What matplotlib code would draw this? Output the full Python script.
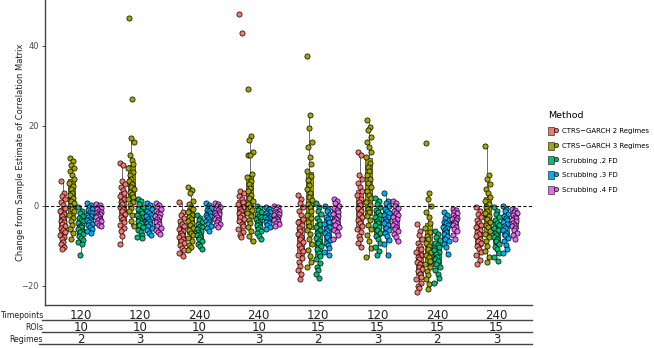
import numpy as np
import matplotlib.pyplot as plt
from matplotlib.patches import Patch
from matplotlib.lines import Line2D
from matplotlib.legend_handler import HandlerTuple
from matplotlib.transforms import blended_transform_factory

# Condition table under the x axis
timepoints = ['120', '120', '240', '240', '120', '120', '240', '240']
rois = ['10', '10', '10', '10', '15', '15', '15', '15']
regimes = ['2', '3', '2', '3', '2', '3', '2', '3']

methods = ['CTRS\u2212GARCH 2 Regimes', 'CTRS\u2212GARCH 3 Regimes',
           'Scrubbing .2 FD', 'Scrubbing .3 FD', 'Scrubbing .4 FD']
colors = ['#F8766D', '#A3A500', '#00BF7D', '#00B0F6', '#E76BF3']

# Values, one list per condition
ctrs2 = [
    [6.1, 3.3, 2.5, 1.8, 1.0, 0.2, -0.6, -1.3, -2.0, -2.6, -3.2, -3.7, -4.1, -4.5, -5.0, -5.5, -6.0, -6.6, -7.2, -7.8, -8.4, -9.0, -9.6, -10.2, -10.7],
    [10.6, 10.3, 6.3, 5.5, 4.7, 3.9, 3.1, 2.4, 1.7, 1.0, 0.4, -0.2, -0.8, -1.4, -2.0, -2.7, -3.4, -4.1, -4.8, -5.5, -6.2, -7.5, -9.5],
    [0.9, -1.5, -2.3, -3.1, -3.8, -4.5, -5.1, -5.7, -6.2, -6.7, -7.2, -7.7, -8.2, -8.7, -9.3, -9.9, -10.5, -11.1, -11.8, -12.5],
    [48.0, 43.1, 3.8, 3.1, 2.4, 1.7, 1.0, 0.4, -0.2, -0.8, -1.3, -1.8, -2.3, -2.8, -3.3, -3.9, -4.5, -5.1, -5.8, -6.5, -7.2, -7.9],
    [2.6, 1.6, 0.6, -0.4, -1.4, -2.3, -3.2, -4.0, -4.8, -5.6, -6.3, -7.0, -7.7, -8.4, -9.1, -9.8, -10.6, -11.4, -12.2, -13.1, -14.0, -15.0, -16.0, -17.1, -18.2],
    [13.5, 12.6, 7.6, 6.6, 5.6, 4.6, 3.6, 2.7, 1.8, 1.0, 0.2, -0.6, -1.4, -2.1, -2.8, -3.5, -4.2, -5.0, -5.8, -6.6, -7.5, -8.4, -9.3, -10.3],
    [-4.5, -6.2, -7.3, -8.3, -9.2, -10.0, -10.8, -11.5, -12.2, -12.8, -13.4, -14.0, -14.6, -15.2, -15.8, -16.4, -17.0, -17.7, -18.4, -19.2, -20.0, -20.6, -21.6],
    [-0.3, -1.2, -2.0, -2.8, -3.5, -4.2, -4.8, -5.4, -6.0, -6.6, -7.1, -7.6, -8.2, -8.8, -9.4, -10.1, -10.8, -11.6, -12.4, -13.5, -14.5],
]
ctrs3 = [
    [12.0, 11.2, 10.3, 9.5, 8.6, 7.6, 6.7, 5.8, 4.9, 4.1, 3.3, 2.6, 1.9, 1.2, 0.6, 0.0, -0.7, -1.4, -2.2, -3.0, -3.9, -4.8, -5.8, -6.9, -8.2],
    [46.9, 26.6, 16.8, 15.8, 12.7, 11.5, 10.5, 9.4, 8.5, 7.6, 6.8, 6.1, 5.4, 4.7, 4.1, 3.5, 2.9, 2.3, 1.7, 1.0, 0.3, -0.5, -1.4, -2.4, -3.8, -5.0],
    [4.6, 4.0, 3.2, 1.2, 0.5, -0.2, -0.9, -1.6, -2.2, -2.8, -3.4, -3.9, -4.4, -4.9, -5.5, -6.1, -6.7, -7.4, -8.1, -8.9, -9.7, -10.4, -11.0],
    [29.1, 17.3, 16.3, 13.4, 12.8, 12.6, 8.0, 7.2, 6.3, 5.4, 4.5, 3.6, 2.8, 2.0, 1.2, 0.5, -0.2, -1.0, -1.8, -2.6, -3.5, -4.4, -5.4, -6.4, -7.5, -8.7],
    [37.4, 22.6, 19.3, 15.9, 14.7, 12.2, 10.5, 8.6, 7.5, 6.4, 5.3, 4.3, 3.3, 2.3, 1.4, 0.5, -0.4, -1.3, -2.2, -3.1, -4.0, -5.0, -6.0, -7.1, -8.3, -9.6, -11.0, -12.6, -14.0, -15.4],
    [21.3, 19.7, 19.0, 17.2, 16.0, 14.7, 13.5, 12.2, 10.8, 9.6, 8.6, 7.6, 6.6, 5.6, 4.6, 3.7, 2.8, 1.9, 1.0, 0.2, -0.7, -1.6, -2.6, -3.6, -4.7, -5.9, -7.2, -8.7, -10.5, -12.9],
    [15.6, 3.2, 1.8, 0.0, -1.5, -2.8, -4.2, -5.5, -6.6, -7.5, -8.4, -9.2, -10.0, -10.8, -11.5, -12.2, -12.9, -13.7, -14.5, -15.3, -16.2, -17.2, -18.3, -19.5, -20.7],
    [14.8, 7.6, 6.7, 5.5, 4.3, 3.2, 2.2, 1.2, 0.4, -0.4, -1.2, -1.9, -2.6, -3.3, -4.0, -4.7, -5.4, -6.2, -7.0, -7.9, -8.9, -10.0, -11.3, -12.7, -14.1],
]
scrub2 = [
    [-0.4, -1.2, -1.9, -2.5, -3.0, -3.5, -3.9, -4.3, -4.7, -5.0, -5.4, -5.8, -6.2, -6.6, -7.0, -7.5, -8.0, -8.6, -9.1, -9.5, -12.3],
    [1.8, 1.1, 0.4, -0.2, -0.8, -1.3, -1.8, -2.3, -2.7, -3.1, -3.5, -3.9, -4.4, -4.9, -5.4, -6.0, -6.6, -7.2, -7.9, -8.0],
    [-2.4, -3.0, -3.6, -4.1, -4.6, -5.0, -5.4, -5.8, -6.2, -6.6, -7.0, -7.4, -7.9, -8.4, -8.9, -9.5, -10.1, -10.7],
    [0.0, -0.6, -1.1, -1.6, -2.1, -2.5, -2.9, -3.3, -3.7, -4.1, -4.5, -4.9, -5.3, -5.8, -6.3, -6.8, -7.5, -8.3],
    [0.8, -0.2, -1.2, -2.1, -3.0, -3.8, -4.6, -5.3, -6.0, -6.7, -7.4, -8.0, -8.7, -9.4, -10.1, -10.9, -11.7, -12.5, -13.4, -14.3, -15.2, -16.1, -17.0, -18.0],
    [2.0, 1.2, 0.4, -0.3, -1.0, -1.6, -2.2, -2.8, -3.3, -3.8, -4.3, -4.8, -5.4, -6.0, -6.7, -7.5, -8.3, -9.2, -10.2, -11.3, -12.4],
    [-6.2, -7.0, -7.8, -8.5, -9.2, -9.8, -10.4, -11.0, -11.6, -12.1, -12.7, -13.3, -13.9, -14.6, -15.3, -16.1, -17.0, -18.0, -19.2],
    [-0.4, -1.3, -2.1, -2.9, -3.6, -4.3, -4.9, -5.5, -6.1, -6.7, -7.2, -7.7, -8.3, -8.9, -9.5, -10.2, -10.9, -11.7, -12.7, -13.7],
]
scrub3 = [
    [0.8, 0.3, -0.2, -0.7, -1.1, -1.5, -1.9, -2.3, -2.6, -2.9, -3.2, -3.5, -3.8, -4.1, -4.5, -4.9, -5.3, -5.8, -6.2, -6.7],
    [0.8, 0.2, -0.4, -0.9, -1.4, -1.8, -2.2, -2.6, -3.0, -3.4, -3.8, -4.2, -4.6, -5.1, -5.6, -6.1, -6.7, -7.4],
    [0.8, 0.3, -0.2, -0.6, -1.0, -1.4, -1.8, -2.2, -2.5, -2.9, -3.3, -3.7, -4.1, -4.6, -5.1, -5.6, -6.2],
    [-0.4, -0.8, -1.2, -1.6, -1.9, -2.2, -2.5, -2.8, -3.1, -3.4, -3.7, -4.0, -4.4, -4.8, -5.2, -5.7],
    [0.0, -0.7, -1.4, -2.1, -2.8, -3.4, -4.0, -4.6, -5.2, -5.7, -6.2, -6.7, -7.3, -7.9, -8.5, -9.2, -9.9, -10.6, -11.5, -12.4],
    [3.3, 1.3, 0.6, -0.1, -0.7, -1.3, -1.9, -2.4, -2.9, -3.4, -3.9, -4.4, -4.9, -5.5, -6.1, -6.8, -7.6, -8.5, -9.5, -12.2],
    [-1.5, -2.4, -3.0, -3.5, -4.0, -4.4, -4.8, -5.2, -5.6, -6.0, -6.5, -7.0, -7.6, -8.2, -8.9, -9.6, -10.4, -12.0],
    [0.0, -0.7, -1.4, -2.0, -2.6, -3.1, -3.6, -4.1, -4.6, -5.1, -5.6, -6.1, -6.7, -7.3, -8.0, -8.8, -9.7, -10.7, -11.7],
]
scrub4 = [
    [0.5, 0.1, -0.3, -0.6, -0.9, -1.2, -1.5, -1.8, -2.0, -2.3, -2.6, -2.9, -3.2, -3.5, -3.9, -4.3, -4.7, -5.0],
    [0.8, 0.2, -0.3, -0.8, -1.3, -1.7, -2.1, -2.5, -2.9, -3.3, -3.7, -4.1, -4.5, -5.0, -5.5, -6.0, -6.5, -7.0],
    [0.8, 0.4, 0.0, -0.4, -0.8, -1.1, -1.5, -1.8, -2.1, -2.4, -2.8, -3.2, -3.6, -4.0, -4.5, -4.9, -5.4],
    [0.0, -0.4, -0.8, -1.2, -1.5, -1.8, -2.1, -2.4, -2.7, -3.0, -3.3, -3.6, -3.9, -4.3, -4.6, -5.0],
    [1.8, 1.2, 0.6, 0.0, -0.5, -1.0, -1.5, -2.0, -2.5, -3.0, -3.4, -3.9, -4.4, -4.9, -5.4, -6.0, -6.6, -7.4, -8.2],
    [1.3, 0.6, 0.0, -0.6, -1.2, -1.7, -2.2, -2.7, -3.2, -3.7, -4.2, -4.7, -5.2, -5.8, -6.4, -7.1, -7.9, -8.7],
    [-0.7, -1.1, -1.5, -1.9, -2.3, -2.7, -3.0, -3.3, -3.6, -4.0, -4.4, -4.8, -5.3, -5.8, -6.4, -7.2, -8.2],
    [-0.7, -1.1, -1.5, -1.9, -2.3, -2.7, -3.1, -3.5, -3.9, -4.3, -4.7, -5.1, -5.6, -6.1, -6.7, -7.4, -8.2],
]
all_series = [ctrs2, ctrs3, scrub2, scrub3, scrub4]

W, H = 654, 348
fig = plt.figure(figsize=(W / 100, H / 100), dpi=100)
ax = fig.add_axes([45 / W, 43 / H, 487 / W, 305 / H])

# fixed spread pattern for the jittered points
spread = np.array([-0.6, 0.3, -0.15, 0.75, -0.45, 0.15, 0.6, -0.75, 0.45, -0.3, 0.0]) * 0.06

for m, (series, col) in enumerate(zip(all_series, colors)):
    for g, vals in enumerate(series):
        xc = g + 1 + (m - 2) * 0.15
        ax.boxplot([vals], positions=[xc], widths=0.12, patch_artist=True,
                   showfliers=False, manage_ticks=False,
                   boxprops=dict(facecolor=col, edgecolor='#333333', linewidth=0.5),
                   medianprops=dict(color='#333333', linewidth=0.8),
                   whiskerprops=dict(color='#333333', linewidth=0.5),
                   capprops=dict(linewidth=0))
        offs = spread[np.arange(len(vals)) % len(spread)]
        ax.scatter(xc + offs, vals, s=14, color=col, edgecolors='black',
                   linewidths=0.5, zorder=3)

ax.axhline(0, color='black', ls='--', lw=0.8, dashes=(3, 2), zorder=4)

ax.set_xlim(0.4, 8.6)
ax.set_ylim(-24.8, 51.4)
ax.set_xticks([])
ax.set_yticks([-20, 0, 20, 40])
ax.tick_params(axis='y', labelsize=6, labelcolor='#4D4D4D', length=2.5, width=0.6, color='#333333', pad=2)
for s in ['top', 'right']:
    ax.spines[s].set_visible(False)
for s in ['left', 'bottom']:
    ax.spines[s].set_linewidth(1.0)
    ax.spines[s].set_color('#444444')
ax.set_ylabel('Change from Sample Estimate of Correlation Matrix', fontsize=6, color='#222222')
ax.yaxis.set_label_coords(-0.042, 0.5)

# table of conditions under the plot
trans = blended_transform_factory(ax.transData, fig.transFigure)
rows = [('Timepoints', timepoints, 315), ('ROIs', rois, 327), ('Regimes', regimes, 339)]
for name, vals, ypx in rows:
    fig.text(43 / W, 1 - ypx / H, name, ha='right', va='center', fontsize=5.7, color='#222222')
    for g, v in enumerate(vals):
        ax.text(g + 1, 1 - (ypx + 0.5) / H, v, transform=trans, ha='center', va='center',
                fontsize=8.5, color='#222222', clip_on=False)
for ypx, x0 in [(320, 42), (332, 42), (344, 39)]:
    fig.add_artist(Line2D([x0 / W, 532 / W], [1 - ypx / H] * 2, color='#444444', lw=1.0))

# legend
handles = [(Patch(facecolor=c, edgecolor='#333333', lw=0.5),
            Line2D([], [], marker='o', ls='', markerfacecolor=c, markeredgecolor='black',
                   markersize=3, markeredgewidth=0.5)) for c in colors]
leg = fig.legend(handles, methods, handler_map={tuple: HandlerTuple(ndivide=None)},
                 loc='upper left', bbox_to_anchor=(545 / W, 1 - 108 / H), frameon=False,
                 fontsize=5.0, title='Method', title_fontsize=6.8, handlelength=1.5,
                 handleheight=1.4, labelspacing=0.95, handletextpad=0.5, borderpad=0)
leg._legend_box.align = 'left'

fig.savefig('out.png', dpi=100)
